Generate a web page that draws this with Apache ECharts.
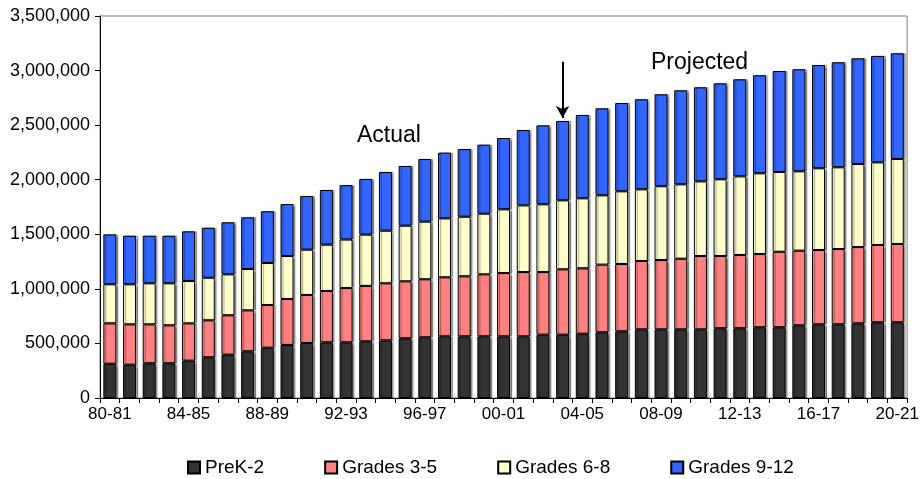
<!DOCTYPE html>
<html>
<head>
<meta charset="utf-8">
<script src="https://cdn.jsdelivr.net/npm/echarts@6/dist/echarts.min.js"></script>
<style>
  html, body { margin: 0; padding: 0; background: #fff; }
  #chart { width: 922px; height: 479px; }
</style>
</head>
<body>
<div id="chart"></div>
<script>
// School years, 1980-81 through 2020-21
const years = [
  '80-81','81-82','82-83','83-84','84-85','85-86','86-87','87-88','88-89','89-90',
  '90-91','91-92','92-93','93-94','94-95','95-96','96-97','97-98','98-99','99-00',
  '00-01','01-02','02-03','03-04','04-05','05-06','06-07','07-08','08-09','09-10',
  '10-11','11-12','12-13','13-14','14-15','15-16','16-17','17-18','18-19','19-20',
  '20-21'
];

// Enrollment by grade band
const preK2 = [
  314000, 305000, 318000, 318000, 342000, 373000, 397000, 428000, 461000, 486000,
  504000, 510000, 510000, 519000, 528000, 547000, 556000, 565000, 565000, 565000,
  565000, 565000, 580000, 580000, 589000, 602000, 611000, 629000, 629000, 629000,
  629000, 639000, 639000, 648000, 648000, 666000, 675000, 675000, 684000, 694000,
  694000
];
const grades3to5 = [
  370000, 370000, 357000, 348000, 342000, 339000, 361000, 375000, 391000, 421000,
  440000, 470000, 498000, 508000, 523000, 522000, 532000, 541000, 550000, 568000,
  580000, 589000, 574000, 599000, 599000, 620000, 617000, 626000, 635000, 647000,
  672000, 662000, 671000, 671000, 692000, 684000, 681000, 690000, 699000, 708000,
  717000
];
const grades6to8 = [
  358000, 367000, 376000, 385000, 388000, 390000, 375000, 379000, 385000, 394000,
  415000, 425000, 444000, 470000, 482000, 510000, 528000, 540000, 546000, 556000,
  584000, 611000, 621000, 632000, 642000, 635000, 666000, 657000, 676000, 682000,
  684000, 703000, 721000, 740000, 731000, 727000, 749000, 749000, 761000, 757000,
  779000
];
const grades9to12 = [
  457000, 445000, 436000, 436000, 455000, 458000, 477000, 474000, 474000, 476000,
  492000, 501000, 498000, 510000, 538000, 547000, 574000, 602000, 620000, 632000,
  653000, 690000, 723000, 727000, 763000, 797000, 809000, 825000, 843000, 861000,
  862000, 879000, 889000, 898000, 925000, 935000, 946000, 962000, 968000, 975000,
  968000
];

const seriesNames = ['PreK-2', 'Grades 3-5', 'Grades 6-8', 'Grades 9-12'];
const seriesColors = ['#333333', '#FF8080', '#FFFFCC', '#3366FF'];
const seriesData = [preK2, grades3to5, grades6to8, grades9to12];

// Arrow marking the last actual year
const arrowYear = '03-04';
const arrowFrom = 3080000;
const arrowTo = 2565000;

const FONT = "'Liberation Sans', Arial, sans-serif";

const chart = echarts.init(document.getElementById('chart'), null, { renderer: 'canvas' });

const series = seriesNames.map((name, i) => {
  const s = {
    name: name,
    type: 'bar',
    stack: 'total',
    data: seriesData[i],
    barCategoryGap: '34%',
    itemStyle: {
      color: seriesColors[i],
      borderColor: '#000000',
      borderWidth: 1,
      shadowColor: 'rgba(0,0,0,0.35)',
      shadowOffsetX: 2,
      shadowOffsetY: 0,
      shadowBlur: 1
    },
    emphasis: { disabled: true }
  };
  if (i === seriesNames.length - 1) {
    s.markLine = {
      silent: true,
      symbol: ['none', 'arrow'],
      symbolSize: [10, 12],
      label: { show: false },
      lineStyle: { color: '#000', width: 2, type: 'solid' },
      data: [[
        { coord: [arrowYear, arrowFrom] },
        { coord: [arrowYear, arrowTo] }
      ]]
    };
  }
  return s;
});

chart.setOption({
  animation: false,
  backgroundColor: '#ffffff',
  textStyle: { fontFamily: FONT },
  grid: {
    left: 100, right: 14, top: 16, bottom: 81,
    show: true,
    borderColor: '#808080',
    borderWidth: 1,
    backgroundColor: 'transparent'
  },
  legend: {
    data: seriesNames,
    left: 182,
    top: 453,
    icon: 'rect',
    itemWidth: 12,
    itemHeight: 12,
    itemGap: 60,
    textStyle: { fontFamily: FONT, fontSize: 19, color: '#000' }
  },
  xAxis: {
    type: 'category',
    data: years,
    boundaryGap: true,
    axisLine: { lineStyle: { color: '#000', width: 1 } },
    axisTick: { show: true, interval: 0, length: 5, alignWithLabel: false, lineStyle: { color: '#000' } },
    axisLabel: { interval: 3, fontSize: 17, color: '#000', margin: 8, fontFamily: FONT },
    splitLine: { show: false }
  },
  yAxis: {
    type: 'value',
    min: 0,
    max: 3500000,
    interval: 500000,
    axisLine: { show: true, lineStyle: { color: '#000', width: 1 } },
    axisTick: { show: true, length: 5, lineStyle: { color: '#000' } },
    axisLabel: {
      fontSize: 18, color: '#000', margin: 10, fontFamily: FONT,
      formatter: v => v.toLocaleString('en-US')
    },
    splitLine: { show: false }
  },
  graphic: [
    {
      type: 'text', left: 357, top: 124,
      style: { text: 'Actual', fontSize: 23, fontFamily: FONT, fill: '#000' }
    },
    {
      type: 'text', left: 651, top: 51,
      style: { text: 'Projected', fontSize: 23, fontFamily: FONT, fill: '#000' }
    }
  ],
  series: series
});
</script>
</body>
</html>
